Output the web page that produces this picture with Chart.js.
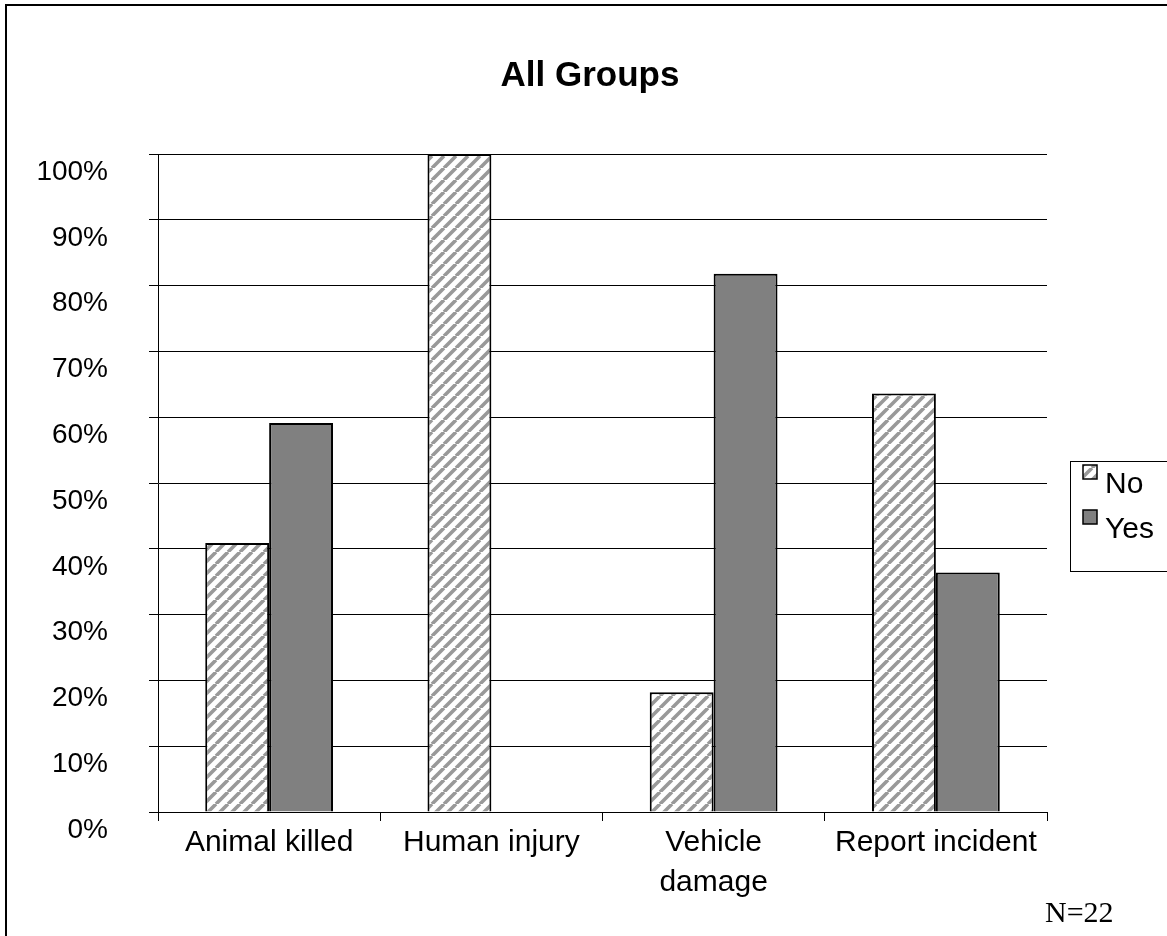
<!DOCTYPE html>
<html>
<head>
<meta charset="utf-8">
<script src="https://cdn.jsdelivr.net/npm/chart.js@4/dist/chart.umd.min.js"></script>
<style>
  html, body { margin: 0; padding: 0; background: #fff; }
  canvas { display: block; }
</style>
</head>
<body>
<canvas id="chart" width="1167" height="936"></canvas>
<script>
// ─── DATA ─────────────────────────────────────────────────────────────────────
const categories = ['Animal killed', 'Human injury', ['Vehicle', 'damage'], 'Report incident'];
const noValues   = [40.9, 100, 18.2, 63.6];
const yesValues  = [59.1, 0, 81.8, 36.4];
const seriesNames = ['No', 'Yes'];
const yTicks = [0, 10, 20, 30, 40, 50, 60, 70, 80, 90, 100];
const titleText = 'All Groups';
const noteText = 'N=22';

const FONT = '"Liberation Sans", Arial, sans-serif';

// ─── HATCH PATTERN ────────────────────────────────────────────────────────────
function makeHatch() {
  const s = 12;
  const c = document.createElement('canvas');
  c.width = s; c.height = s;
  const g = c.getContext('2d');
  g.fillStyle = '#fff';
  g.fillRect(0, 0, s, s);
  g.strokeStyle = '#999';
  g.lineWidth = 3.6;
  g.beginPath();
  // "/" stripes, drawn three times so the tile wraps cleanly
  [-s, 0, s].forEach(o => {
    g.moveTo(o, s);
    g.lineTo(o + s, 0);
  });
  g.stroke();
  return document.getElementById('chart').getContext('2d').createPattern(c, 'repeat');
}
const hatch = makeHatch();

// ─── DECORATIONS: frame, title, legend box, note ─────────────────────────────
const decor = {
  id: 'decor',
  beforeDraw(chart) {
    const ctx = chart.ctx;
    ctx.save();
    ctx.fillStyle = '#fff';
    ctx.fillRect(0, 0, chart.width, chart.height);
    ctx.fillStyle = '#000';
    ctx.fillRect(5, 4, chart.width, 2);
    ctx.fillRect(5, 4, 2, chart.height);
    ctx.restore();
  },
  afterDraw(chart) {
    const ctx = chart.ctx;
    ctx.save();
    ctx.fillStyle = '#000';
    ctx.textAlign = 'center';
    ctx.textBaseline = 'middle';
    ctx.font = 'bold 35px ' + FONT;
    ctx.fillText(titleText, 590, 76);

    // legend box
    ctx.strokeStyle = '#000';
    ctx.lineWidth = 1;
    ctx.strokeRect(1070.5, 461.5, 120, 110);
    const fills = [hatch, '#808080'];
    ctx.font = '30px ' + FONT;
    ctx.textAlign = 'left';
    ctx.textBaseline = 'alphabetic';
    seriesNames.forEach((name, i) => {
      const y = 465 + i * 45;
      ctx.fillStyle = fills[i];
      ctx.fillRect(1083, y, 14, 14);
      ctx.lineWidth = 1.5;
      ctx.strokeRect(1083, y, 14, 14);
      ctx.fillStyle = '#000';
      ctx.fillText(name, 1105, y + 28);
    });

    ctx.font = '30px "Liberation Serif", "Times New Roman", serif';
    ctx.fillText(noteText, 1045, 922);
    ctx.restore();
  }
};

// ─── CHART ────────────────────────────────────────────────────────────────────
new Chart(document.getElementById('chart'), {
  type: 'bar',
  data: {
    labels: categories,
    datasets: [
      { label: seriesNames[0], data: noValues, backgroundColor: hatch, borderColor: '#000', borderWidth: 2 },
      { label: seriesNames[1], data: yesValues, backgroundColor: '#808080', borderColor: '#000', borderWidth: 2 }
    ]
  },
  options: {
    responsive: false,
    animation: false,
    devicePixelRatio: 1,
    layout: { padding: { top: 154, right: 120, bottom: 0, left: 0 } },
    datasets: { bar: { categoryPercentage: 0.575, barPercentage: 1.0 } },
    plugins: { legend: { display: false }, title: { display: false }, tooltip: { enabled: false } },
    scales: {
      x: {
        afterFit: s => { s.height = 124; },
        grid: { offset: true, drawOnChartArea: false, color: '#000', tickLength: 9 },
        border: { display: true, color: '#000', width: 1 },
        ticks: {
          color: '#000', maxRotation: 0, autoSkip: false, padding: 2,
          font: { family: FONT, size: 30, lineHeight: 1.33 }
        }
      },
      y: {
        min: 0, max: 100,
        afterFit: s => { s.width = 158; },
        afterBuildTicks: s => { s.ticks = yTicks.map(v => ({ value: v })); },
        grid: { color: '#000', tickLength: 9 },
        border: { display: true, color: '#000', width: 1 },
        ticks: {
          color: '#000', padding: 41, labelOffset: 18,
          font: { family: FONT, size: 28 },
          callback: v => v + '%'
        }
      }
    }
  },
  plugins: [decor]
});
</script>
</body>
</html>
